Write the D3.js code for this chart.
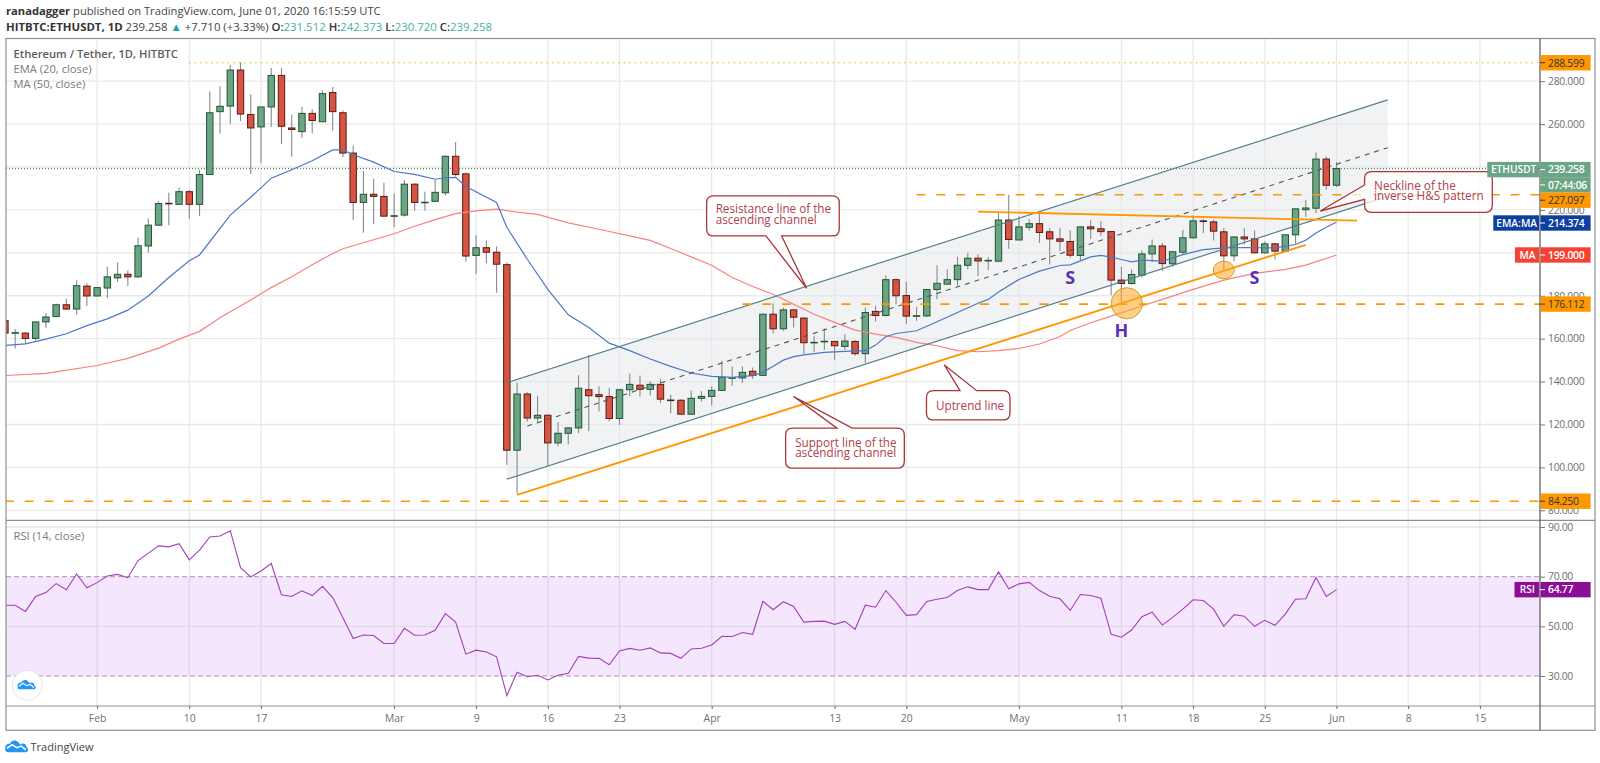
<!DOCTYPE html>
<html>
<head>
<meta charset="utf-8">
<script src="https://cdn.jsdelivr.net/npm/d3@7"></script>
<style>
  html, body { margin: 0; padding: 0; background: #fff; }
  text { font-family: "Open Sans", sans-serif; }
  .price-axis text, .rsi-axis text, .time-axis text { font-size: 10.4px; fill: #6f6f6f; }
  .price-axis text, .rsi-axis text { letter-spacing: -0.3px; }
  .time-axis .domain, .price-axis .domain, .rsi-axis .domain { display: none; }
</style>
</head>
<body>
<svg id="chart" width="1600" height="763"></svg>
<script>
// daily candles, 23 Jan to 1 Jun 2020
var firstDay = "2020-01-23", lastDay = "2020-06-01";

var opens = [
  168.4,162.6,162.6,160.1,167.8,170.3,175.8,173.8,184.5,
  179.9,183.6,188.3,190,188.8,203.2,212.9,223.1,222.6,228.5,222.6,236.5,265.8,268.4,285.2,264.5,258.7,268,282.7,258.2,256.5,265,261.1,274.7,265.3,246.5,223.5,227.3,226.3,
  217.1,217.6,232,223.4,224,228,245,236.8,198.8,202.4,200.3,194.5,108,134.2,123,124.3,111.4,115.9,118.4,136.2,133.9,133,122.8,136.2,138.3,136.4,138.7,131.4,131.3,124.8,132.2,
  133.1,135.9,141.6,141.7,144.8,142.9,171.4,164.6,173.4,169.6,158.1,158.5,158.7,156.4,158.7,153,172.7,170.8,187.5,180.1,170.5,170.6,182.9,185.4,187.5,194.2,197.5,196.3,196.1,215.3,
  206,211.9,213.6,209.8,206.5,205.3,198.8,212.1,211.2,209.9,187.3,185.7,189.6,199.5,203.2,194.9,200.3,207,214.9,214.4,209.8,198.6,207.4,206.5,200,204.2,200.8,208.4,220.1,220.8,243.7,
  231.512
];
var highs = [
  170,164.5,163,168,172,176.4,178.6,187.2,185.8,
  184,193.5,195.5,191.9,207.2,216,224.1,228,230.4,229.3,238.7,275.2,277.7,287.5,288.8,273.9,268.1,286.1,286.1,264.4,268.1,266.9,275.8,277.3,266.4,250,238.2,234.5,232.7,
  227.7,234,232.4,228.5,234,245.5,251.7,237.5,208.2,205.8,203,195.5,139.6,135,133.4,124.6,121,118.7,143,152.5,137.8,137,136.5,143.8,142.8,140.1,141.2,133.9,131.8,135.8,135.5,
  137.8,149.7,147,147,146.6,171.7,176.5,174.5,173.7,169.9,161.3,164.9,159,162.1,159.3,174.5,175.3,189.6,188,186.5,174.8,183,194.2,192.3,198.2,200.1,199.3,198.1,218.6,227.1,
  217,215.8,219.4,211.6,211.6,210.5,212.3,215.2,214.7,210,193.5,192.2,201.1,206.2,204.6,200.8,210.8,217.4,215.8,215.5,211.6,207.7,211.6,210.4,205.4,204.6,208.6,220.7,224.8,246.8,244.9,
  242.373
];
var lows = [
  161,155.4,157.6,159.2,165.1,170,173.3,171.1,175.2,
  179.7,178.9,186.4,184.5,188.3,200,212.5,212.9,222.6,215.8,217.2,236.5,255.6,260.1,261.4,236.8,241.8,258.6,250.6,244.8,253.6,255.6,261.1,257,244.6,215.2,209.4,213.3,216.8,
  212.1,216.8,219.6,219.6,223.8,226.6,235.6,195.8,190,195.2,181.4,101.2,87.7,121.4,121,100.9,109.9,110.7,115.9,116.9,126,121.5,119.8,133.1,133,133.5,130,125.2,124.5,124.5,130.7,
  128.8,135.8,138.1,139.3,141.2,142.9,162.4,163.7,165.2,152.5,153.9,154.7,150,154.7,152,148.6,168,170.5,176,166.8,168.3,170.1,178.4,185.1,184.6,192.3,189.2,192,196.1,201.9,
  205.9,210.4,204.6,194.6,200.8,197.7,196.1,206.5,208,180.2,176.3,185.3,188.4,195.7,191.5,193.5,199.2,206.7,209.3,205.7,191.5,196.1,203.9,199.7,199.7,196.9,200.6,204.4,216.7,218.6,229.4,
  230.72
];
var closes = [
  162.6,162.8,160.1,167.8,170.1,175.8,173.8,184.7,179.9,
  183.8,188.8,190,188.8,203.3,212.9,223,222.9,228.5,222.6,236.5,265.3,268.3,285.2,264.7,258.2,268,282.7,259,257.5,265,261.7,274.2,265.8,246.5,223.5,227.3,226.3,217.1,
  217.3,232,223.5,223.6,228.2,245,236.5,198.5,202.4,200.3,194.7,108,134.2,123,124.3,111.4,115.9,118.4,136.9,133.4,133,122.8,136.2,138.7,136.4,138.7,131.8,131.2,124.8,132.2,133.1,
  135.9,142,141.8,144.3,142.9,171.4,164.6,173.4,170,158.1,158.3,158.8,156.7,158.9,153,172.2,170.8,187.5,180,170.5,170.7,182.9,185.8,187.5,194.2,197.5,196.2,196.5,215.3,206.2,
  212.1,213.6,209.5,206.5,205.4,198.9,212.1,211.2,209.9,187.3,185.7,189.9,199.5,203.2,195,200.5,207,214.9,214.6,210.1,198.6,207.4,206.5,200,204.2,200.8,208.4,220.5,220.9,243.7,231.5,
  239.258
];

// moving averages
var emaDates = ["01-23","01-25","01-27","01-29","01-31","02-02","02-04","02-06","02-08","02-10","02-11","02-14","02-16","02-18","02-20","02-22","02-24","02-25","02-26","02-28","03-01","03-03","03-05","03-06","03-07","03-08","03-11","03-12","03-14","03-16","03-18","03-20","03-22","03-24","03-26","03-28","03-30","04-01","04-03","04-05","04-06","04-07","04-08","04-09","04-10","04-12","04-14","04-16","04-17","04-18","04-19","04-21","04-23","04-25","04-27","04-28","04-29","05-01","05-03","05-05","05-06","05-08","05-09","05-10","05-11","05-12","05-13","05-15","05-17","05-19","05-21","05-23","05-26","05-28","05-29","05-30","05-31","06-01"];
var emaValues = [156.8,157.6,159.8,162.3,166.1,169.2,173.3,179.9,188.5,196.3,199,217.6,225.9,234.8,238.7,242.9,248,248,245.7,242.3,237.9,236.6,234.3,235,235.2,230.9,223.5,211.9,197,183,171.1,165.2,157.9,154.4,150.5,147.1,144,142.4,142,142.8,144.3,147.1,150,151.6,152.4,153.6,154.1,154.4,157,160.9,162.4,163.7,167.9,172.2,176.5,178.3,181.7,187.6,191.5,194.1,194.4,198.1,198.8,198,196.9,195.8,196.6,196.1,199.2,201.5,202.3,202.5,202.3,203.9,205.9,209.3,211.9,214.374];

var maDates = ["01-23","01-27","02-01","02-04","02-07","02-09","02-11","02-13","02-14","02-16","02-18","02-20","02-22","02-24","02-25","02-27","03-01","03-03","03-05","03-07","03-09","03-11","03-13","03-15","03-18","03-21","03-24","03-26","03-28","03-30","04-01","04-03","04-05","04-07","04-09","04-11","04-13","04-15","04-17","04-19","04-21","04-23","04-25","04-27","04-29","05-01","05-03","05-05","05-06","05-08","05-10","05-13","05-15","05-18","05-21","05-24","05-27","05-29","06-01"];
var maValues = [142.8,143.8,147.5,150.8,155.6,159.8,163.4,169.7,172.5,178,183.8,188.9,194.4,199.7,201.9,204.7,208.9,212.4,215.5,218.3,219.6,220.4,219,217.9,214,211,207.9,205.8,202,198.1,194.2,188.5,184.3,180.7,176,171.4,167.6,164,162.1,160.6,158.3,156.7,154.4,153.9,154.4,155.4,157.5,161,163.8,167.4,170.5,175.2,178.3,183,187.3,190.4,192.3,194.3,199];

var rsiValues = [
  58.5,58.5,56,62,63.6,67.2,64.7,71.1,65.5,
  67.6,70.3,70.9,69.6,76.5,79.5,82.4,82,83.3,76.8,80.7,86,86.4,88.5,73.6,69.9,72.3,75.3,62.7,62,64.3,62.4,66.1,61.6,53.5,45.1,46.5,46.3,43.1,
  43.1,49.2,46.4,46.5,48.4,55.1,51.7,38.8,40.4,39.7,37.7,22.1,31.5,29.7,30.3,28.4,30.3,31.1,37.9,37.2,37.1,34.5,40.1,41.1,40.4,41.3,39.3,39.1,37.1,40.9,41.2,
  42.5,46,45.9,47.5,46.8,60.1,56.7,59.9,58,51.7,52,52.1,50.8,52,48.8,58.5,57.7,64.4,59.7,54.4,54.7,60,60.9,61.6,64.4,65.9,64.8,64.8,71.9,65.1,
  67.1,67.7,64.4,62.1,61.1,56.4,62.8,62.4,61.3,46.8,45.6,48.5,53.9,55.7,50.5,53.6,56.9,60.7,60.4,56.9,50,54.7,54.1,50,52.4,50.4,54.9,60.9,61.1,69.7,62,
  64.77
];

// axis ticks
var timeTickDates = ["02-01","02-10","02-17","03-01","03-09","03-16","03-23","04-01","04-13","04-20","05-01","05-11","05-18","05-25","06-01","06-08","06-15"];
var timeTickLabels = ["Feb","10","17","Mar","9","16","23","Apr","13","20","May","11","18","25","Jun","8","15"];
var priceTicks = [80,100,120,140,160,180,200,220,240,260,280];
var rsiTicks = [30,50,70,90];

// levels and drawings, in date / price
var levelPrices = [288.599, 227.097, 176.112, 84.25];
var levelStarts = ["02-10", "04-21", "04-04", "01-23"];
var channelStart = "03-12", channelEnd = "06-06";
var channelLowStart = 94.5, channelLowEnd = 226.3, channelHighStart = 139.5, channelHighEnd = 271.3;
var midStart = "03-14", midStartPrice = 119.3, midEndPrice = 249;
var uptrendDates = ["03-13", "05-29"], uptrendPrices = [87.2, 203.7];
var necklineDates = ["04-27", "06-03"], necklinePrices = [219.2, 215];

var parseDay = d3.utcParse("%Y-%m-%d");
function day(s){ return parseDay("2020-" + s); }

var dates = d3.utcDay.range(parseDay(firstDay), d3.utcDay.offset(parseDay(lastDay), 1));

var frameLeft = 6, axisX = 1540, frameRight = 1595, frameTop = 38.5, priceBottom = 520.3, rsiBottom = 706, frameBottom = 730.3;

var x = d3.scaleUtc().domain([day("02-10"), day("06-01")]).range([189.3, 1336.5]);
var y = d3.scaleLinear().domain([80, 280]).range([510.3, 81.2]);
var yRsi = d3.scaleLinear().domain([30, 90]).range([676, 527]);

var svg = d3.select("#chart");

var defs = svg.append("defs");
defs.append("clipPath").attr("id", "priceClip").append("rect")
  .attr("x", frameLeft).attr("y", frameTop).attr("width", axisX - frameLeft).attr("height", priceBottom - frameTop);
defs.append("clipPath").attr("id", "rsiClip").append("rect")
  .attr("x", frameLeft).attr("y", priceBottom).attr("width", axisX - frameLeft).attr("height", rsiBottom - priceBottom);

// grid
var grid = svg.append("g");
grid.selectAll(".vgrid").data(timeTickDates).enter().append("line")
  .attr("x1", function(d){ return x(day(d)); }).attr("x2", function(d){ return x(day(d)); })
  .attr("y1", frameTop).attr("y2", rsiBottom)
  .attr("stroke", "#e9e9ea").attr("stroke-width", 1.3);
grid.selectAll(".hgrid").data(priceTicks).enter().append("line")
  .attr("x1", frameLeft).attr("x2", axisX)
  .attr("y1", function(d){ return y(d); }).attr("y2", function(d){ return y(d); })
  .attr("stroke", "#e9e9ea").attr("stroke-width", 1.3);

// rsi pane background
grid.append("rect")
  .attr("x", frameLeft).attr("width", axisX - frameLeft)
  .attr("y", yRsi(70)).attr("height", yRsi(30) - yRsi(70))
  .attr("fill", "#9c27ee").attr("opacity", 0.11);
grid.selectAll(".rgrid").data([90, 50]).enter().append("line")
  .attr("x1", frameLeft).attr("x2", axisX)
  .attr("y1", function(d){ return yRsi(d); }).attr("y2", function(d){ return yRsi(d); })
  .attr("stroke", "#dcd3e6").attr("stroke-width", 1);
grid.selectAll(".rdash").data([70, 30]).enter().append("line")
  .attr("x1", frameLeft).attr("x2", axisX)
  .attr("y1", function(d){ return yRsi(d); }).attr("y2", function(d){ return yRsi(d); })
  .attr("stroke", "#a995b5").attr("stroke-width", 1).attr("stroke-dasharray", "5,3");

var pricePane = svg.append("g").attr("clip-path", "url(#priceClip)");

// channel
pricePane.append("path")
  .attr("d", d3.line()([
    [x(day(channelStart)), y(channelHighStart)], [x(day(channelEnd)), y(channelHighEnd)],
    [x(day(channelEnd)), y(channelLowEnd)], [x(day(channelStart)), y(channelLowStart)]
  ]) + "Z")
  .attr("fill", "#e3e6ea").attr("opacity", 0.5);

// current price line
pricePane.append("line")
  .attr("x1", frameLeft).attr("x2", axisX)
  .attr("y1", y(closes[closes.length - 1])).attr("y2", y(closes[closes.length - 1]))
  .attr("stroke", "#2c7a4f").attr("stroke-width", 1).attr("stroke-dasharray", "1,2");

// candles
var candleWidth = 6.4;
var candles = pricePane.selectAll(".candle").data(dates).enter().append("g").attr("class", "candle");
candles.append("line")
  .attr("x1", function(d){ return x(d); }).attr("x2", function(d){ return x(d); })
  .attr("y1", function(d, i){ return y(highs[i]); }).attr("y2", function(d, i){ return y(lows[i]); })
  .attr("stroke", "#8a8a8a").attr("stroke-width", 1.1);
candles.append("rect")
  .attr("x", function(d){ return x(d) - candleWidth / 2; })
  .attr("width", candleWidth)
  .attr("y", function(d, i){ return y(Math.max(opens[i], closes[i])); })
  .attr("height", function(d, i){ return Math.max(Math.abs(y(opens[i]) - y(closes[i])), 0.6); })
  .attr("fill", function(d, i){ return closes[i] >= opens[i] ? "#6ba583" : "#d75442"; })
  .attr("stroke", function(d, i){ return closes[i] >= opens[i] ? "#225437" : "#5b1a13"; })
  .attr("stroke-width", 1);

// averages
var avgLine = d3.line().x(function(d){ return x(day(d[0])); }).y(function(d){ return y(d[1]); });
pricePane.append("path")
  .attr("d", avgLine(d3.zip(maDates, maValues)))
  .attr("fill", "none").attr("stroke", "#f98080").attr("stroke-width", 1.2);
pricePane.append("path")
  .attr("d", avgLine(d3.zip(emaDates, emaValues)))
  .attr("fill", "none").attr("stroke", "#4b78c4").attr("stroke-width", 1.2);

// channel lines
var channelColor = "#55808a";
function drawLine(g, d1, p1, d2, p2, color, width, dash){
  return g.append("line")
    .attr("x1", x(day(d1))).attr("y1", y(p1))
    .attr("x2", x(day(d2))).attr("y2", y(p2))
    .attr("stroke", color).attr("stroke-width", width)
    .attr("stroke-dasharray", dash || null);
}
drawLine(pricePane, channelStart, channelHighStart, channelEnd, channelHighEnd, channelColor, 1.2);
drawLine(pricePane, channelStart, channelLowStart, channelEnd, channelLowEnd, channelColor, 1.2);
drawLine(pricePane, midStart, midStartPrice, channelEnd, midEndPrice, "#555", 1.1, "5,5");
drawLine(pricePane, uptrendDates[0], uptrendPrices[0], uptrendDates[1], uptrendPrices[1], "#ff9800", 1.9);
drawLine(pricePane, necklineDates[0], necklinePrices[0], necklineDates[1], necklinePrices[1], "#ff9800", 1.9);

// horizontal levels
levelPrices.forEach(function(p, i){
  pricePane.append("line")
    .attr("x1", x(day(levelStarts[i]))).attr("x2", axisX)
    .attr("y1", y(p)).attr("y2", y(p))
    .attr("stroke", "#ff9800")
    .attr("stroke-width", i == 0 ? 1.2 : 1.6)
    .attr("stroke-dasharray", i == 0 ? "1.3,4.2" : "9,10.8");
});

// H&S circles
pricePane.append("ellipse")
  .attr("cx", x(day("05-11")) + 5.4).attr("cy", y(176.5)).attr("rx", 15.6).attr("ry", 15.6)
  .attr("fill", "#ffa726").attr("fill-opacity", 0.55).attr("stroke", "#c9a227").attr("stroke-width", 1);
pricePane.append("ellipse")
  .attr("cx", x(day("05-21"))).attr("cy", y(192)).attr("rx", 10.5).attr("ry", 8.8)
  .attr("fill", "#ffa726").attr("fill-opacity", 0.55).attr("stroke", "#c9a227").attr("stroke-width", 1);

var patternLetters = ["S", "H", "S"];
var letterDates = ["05-06", "05-11", "05-24"], letterPrices = [185.7, 160.9, 185.7];
patternLetters.forEach(function(s, i){
  svg.append("text").text(s)
    .attr("x", x(day(letterDates[i]))).attr("y", y(letterPrices[i]))
    .attr("text-anchor", "middle")
    .style("font-size", "18px").style("font-weight", 700).attr("fill", "#5a2fb5");
});

// callouts: tip in date / price, everything else offset in pixels from the tip
function callout(c){
  var tx = x(d3.isoParse(c.tip[0])), ty = y(c.tip[1]);
  var bx = tx + c.box[0], by = ty + c.box[1], w = c.box[2], h = c.box[3], r = 7;
  var p = "M" + (bx + r) + "," + by;
  if (c.side == "top") p += "L" + (tx + c.base[0]) + "," + by + "L" + tx + "," + ty + "L" + (tx + c.base[1]) + "," + by;
  p += "L" + (bx + w - r) + "," + by + "Q" + (bx + w) + "," + by + " " + (bx + w) + "," + (by + r);
  p += "L" + (bx + w) + "," + (by + h - r) + "Q" + (bx + w) + "," + (by + h) + " " + (bx + w - r) + "," + (by + h);
  if (c.side == "bottom") p += "L" + (tx + c.base[1]) + "," + (by + h) + "L" + tx + "," + ty + "L" + (tx + c.base[0]) + "," + (by + h);
  p += "L" + (bx + r) + "," + (by + h) + "Q" + bx + "," + (by + h) + " " + bx + "," + (by + h - r);
  if (c.side == "left") p += "L" + bx + "," + (ty + c.base[1]) + "L" + tx + "," + ty + "L" + bx + "," + (ty + c.base[0]);
  p += "L" + bx + "," + (by + r) + "Q" + bx + "," + by + " " + (bx + r) + "," + by + "Z";
  svg.append("path").attr("d", p)
    .attr("fill", "#fff").attr("fill-opacity", c.alpha).attr("stroke", "#a8363a").attr("stroke-width", 1.3);
  c.lines.forEach(function(s, i){
    svg.append("text").text(s)
      .attr("x", bx + c.pad).attr("y", by + c.first + i * 10.7)
      .style("font-size", "11.7px").attr("fill", "#b0414a");
  });
}
callout({tip: ["2020-04-10T06:30Z", 183.5], side: "bottom", base: [-40.7, -25], box: [-100, -92.3, 132.6, 40], pad: 9, first: 17.5, alpha: 1,
  lines: ["Resistance line of the", "ascending channel"]});
callout({tip: ["2020-04-23T17:00Z", 147.75], side: "top", base: [15.7, 32.4], box: [-17.8, 25.7, 83.5, 29.3], pad: 9.5, first: 19, alpha: 1,
  lines: ["Uptrend line"]});
callout({tip: ["2020-04-09T00:00Z", 133], side: "top", base: [43.4, 58.4], box: [-8, 31.6, 118.7, 40], pad: 9.5, first: 18.5, alpha: 1,
  lines: ["Support line of the", "ascending channel"]});
callout({tip: ["2020-05-30T10:00Z", 219.5], side: "left", base: [-26, -11.7], box: [44.3, -39.3, 127.7, 40.6], pad: 9.5, first: 18, alpha: 0.75,
  lines: ["Neckline of the", "inverse H&S pattern"]});

// rsi line
svg.append("g").attr("clip-path", "url(#rsiClip)").append("path")
  .datum(rsiValues)
  .attr("d", d3.line().x(function(d, i){ return x(dates[i]); }).y(function(d){ return yRsi(d); }))
  .attr("fill", "none").attr("stroke", "#a53ebb").attr("stroke-width", 1.1);

// frame
var frameColor = "#8f8f8f";
svg.append("rect").attr("x", frameLeft).attr("y", frameTop).attr("width", frameRight - frameLeft).attr("height", frameBottom - frameTop)
  .attr("fill", "none").attr("stroke", frameColor).attr("stroke-width", 1.2);
[priceBottom, rsiBottom].forEach(function(v){
  svg.append("line").attr("x1", frameLeft).attr("x2", frameRight).attr("y1", v).attr("y2", v)
    .attr("stroke", frameColor).attr("stroke-width", 1.2);
});
svg.append("line").attr("x1", axisX).attr("x2", axisX).attr("y1", frameTop).attr("y2", frameBottom)
  .attr("stroke", "#555").attr("stroke-width", 1.2);

// axes
svg.append("g").attr("class", "time-axis")
  .attr("transform", "translate(0," + rsiBottom + ")")
  .call(d3.axisBottom(x).tickValues(timeTickDates.map(day))
    .tickFormat(function(d, i){ return timeTickLabels[i]; }).tickSize(3).tickPadding(6))
  .selectAll("line").attr("stroke", "#666");

svg.append("g").attr("class", "price-axis")
  .attr("transform", "translate(" + axisX + ",0)")
  .call(d3.axisRight(y).tickValues(priceTicks).tickFormat(d3.format(".3f")).tickSize(5).tickPadding(3))
  .selectAll("line").attr("stroke", "#777");

svg.append("g").attr("class", "rsi-axis")
  .attr("transform", "translate(" + axisX + ",0)")
  .call(d3.axisRight(yRsi).tickValues(rsiTicks).tickFormat(d3.format(".2f")).tickSize(5).tickPadding(3))
  .selectAll("line").attr("stroke", "#777");

// axis value tags
function tag(value, text, color, textColor, name, nameLeft){
  var cy = value, h = 15.4;
  if (name) {
    svg.append("rect").attr("x", nameLeft).attr("y", cy - h / 2).attr("width", axisX - nameLeft - 1).attr("height", h).attr("fill", color);
    svg.append("text").text(name).attr("x", (nameLeft + axisX) / 2).attr("y", cy + 3.8)
      .attr("text-anchor", "middle").style("font-size", "10.2px").style("font-weight", 600).attr("fill", "#fff");
  }
  svg.append("rect").attr("x", axisX + 0.6).attr("y", cy - h / 2).attr("width", 50).attr("height", h).attr("fill", color);
  svg.append("line").attr("x1", axisX).attr("x2", axisX + 5).attr("y1", cy).attr("y2", cy).attr("stroke", textColor);
  svg.append("text").text(text).attr("x", axisX + 8).attr("y", cy + 3.8)
    .style("font-size", "10.4px").style("letter-spacing", "-0.3px")
    .style("font-weight", textColor == "#fff" ? 600 : 400).attr("fill", textColor);
}
tag(y(288.599), "288.599", "#ff9800", "#333");
tag(y(239.258) + 1, "239.258", "#6ba583", "#fff", "ETHUSDT", 1487.3);
tag(y(239.258) + 16.3, "07:44:06", "#6ba583", "#fff");
tag(y(227.097) + 5.5, "227.097", "#ff9800", "#333");
tag(y(214.374) + 1, "214.374", "#0d3fa0", "#fff", "EMA:MA", 1493.3);
tag(y(199), "199.000", "#f44336", "#fff", "MA", 1515);
tag(y(176.112), "176.112", "#ff9800", "#333");
tag(y(84.25), "84.250", "#ff9800", "#333");
tag(yRsi(64.77), "64.77", "#8a0f96", "#fff", "RSI", 1514.5);

// legends
var legendLines = ["Ethereum / Tether, 1D, HITBTC", "EMA (20, close)", "MA (50, close)"];
legendLines.forEach(function(s, i){
  svg.append("text").text(s).attr("x", 13.5).attr("y", 57.5 + i * 15.4)
    .style("font-size", "11.2px").style("font-weight", i == 0 ? 600 : 400)
    .attr("fill", i == 0 ? "#5c5c5c" : "#7a7a7a");
});
svg.append("text").text("RSI (14, close)").attr("x", 13.5).attr("y", 539.5)
  .style("font-size", "11.2px").attr("fill", "#7a7a7a");

// header
var line1 = svg.append("text").attr("x", 6).attr("y", 15).style("font-size", "11.2px").attr("fill", "#444");
line1.append("tspan").text("ranadagger").style("font-weight", 700).attr("fill", "#333");
line1.append("tspan").text(" published on TradingView.com, June 01, 2020 16:15:59 UTC");

var headTeal = "#4aaea0";
var line2 = svg.append("text").attr("x", 6).attr("y", 30.5).style("font-size", "11.4px").attr("fill", "#444");
line2.append("tspan").text("HITBTC:ETHUSDT, 1D").style("font-weight", 700).attr("fill", "#333");
line2.append("tspan").text("  239.258 ");
line2.append("tspan").text("\u25B2").attr("fill", "#26a69a");
line2.append("tspan").text(" +7.710 (+3.33%) ");
[["O:", "231.512"], ["H:", "242.373"], ["L:", "230.720"], ["C:", "239.258"]].forEach(function(d){
  line2.append("tspan").text(d[0]).style("font-weight", 600).attr("fill", "#333");
  line2.append("tspan").text(d[1] + " ").attr("fill", headTeal);
});

// logo
var cloud = "M0,14 C-1,9 3,6 6,7 C8,2 14,1 17,5 L20,8 C23,5 28,7 28,12 C31,13 31,18 27,18 L3,18 C1,18 0,16 0,14 Z";
function logo(tx, ty, sc){
  var g = svg.append("g").attr("transform", "translate(" + tx + "," + ty + ") scale(" + sc + ")");
  g.append("path").attr("d", cloud).attr("fill", "#2196f3");
  g.append("path").attr("d", "M2,13 L9,8 L15,12 L21,10 L27,15")
    .attr("fill", "none").attr("stroke", "#fff").attr("stroke-width", 2);
}
svg.append("circle").attr("cx", 27.3).attr("cy", 685.3).attr("r", 15)
  .attr("fill", "#fff").attr("stroke", "#e6e6e6");
logo(17.7, 678.5, 0.6);
logo(5.3, 738.5, 0.76);
svg.append("text").text("TradingView").attr("x", 30.5).attr("y", 750.7)
  .style("font-size", "11px").attr("fill", "#444");
</script>
</body>
</html>
